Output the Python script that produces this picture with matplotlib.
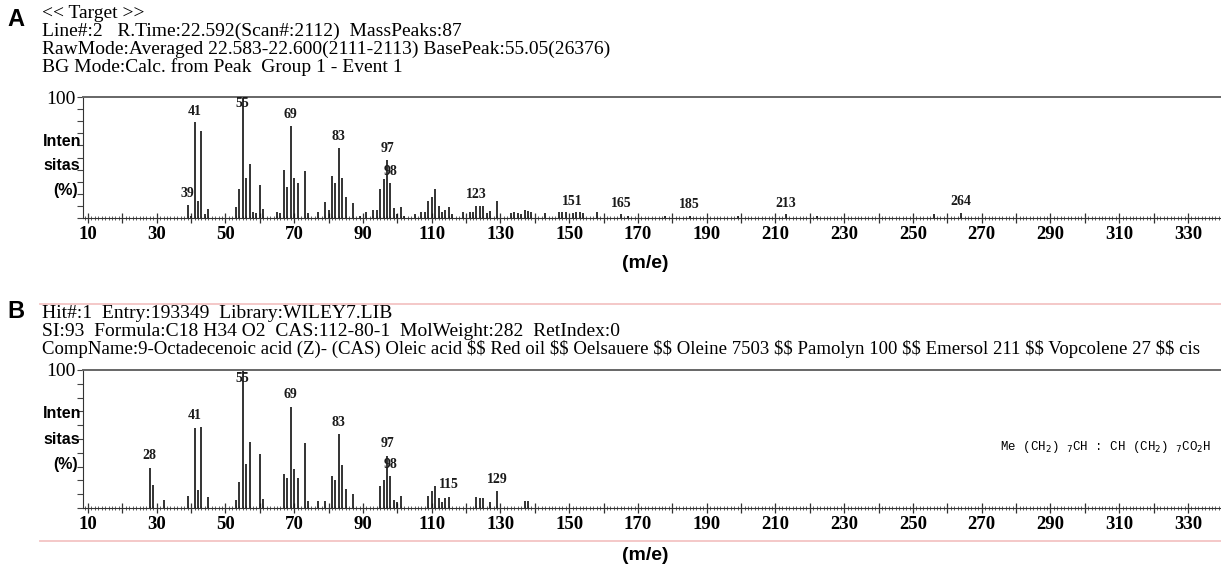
import matplotlib
matplotlib.use("Agg")
import matplotlib.pyplot as plt
from matplotlib.ticker import FixedLocator, FuncFormatter, MultipleLocator

# ---------------- data ----------------
mz_A = [39, 40, 41, 42, 43, 44, 45, 53, 54, 55, 56, 57, 58, 59, 60, 61, 65, 66, 67, 68, 69, 70, 71,
        73, 74, 77, 79, 80, 81, 82, 83, 84, 85, 87, 89, 91, 93, 94, 95, 96, 97, 98, 99, 100, 101, 102,
        105, 107, 108, 109, 110, 111, 112, 113, 114, 115, 116, 119, 121, 122, 123, 124, 125, 126, 127,
        129, 133, 134, 135, 136, 137, 138, 139, 143, 147, 148, 149, 151, 152, 153, 154, 158,
        165, 167, 178, 185, 199, 213, 222, 256, 264]
int_A = [10.7, 2, 79, 14, 72, 3, 7.5, 9, 24, 100, 33, 45, 5, 4, 27, 7.5, 5, 4, 40, 26, 76, 33, 29,
         39, 4, 5, 13, 7, 35, 29, 57.6, 33, 17.6, 12, 2, 5, 7, 7, 24, 32, 48, 29, 8, 3, 9, 2,
         3, 5, 5, 14, 17, 24, 10, 5, 7, 9, 3, 5, 5, 5, 10, 10, 10, 4, 6,
         14, 4, 5, 4, 3, 7, 6, 5, 4, 5, 5, 5, 4, 5, 5, 4, 5,
         3, 2, 1.5, 2, 1.5, 3, 2, 3, 4]
labels_A = [39, 41, 55, 69, 83, 97, 98, 123, 151, 165, 185, 213, 264]

mz_B = [28, 29, 32, 39, 41, 42, 43, 45, 53, 54, 55, 56, 57, 60, 61, 67, 68, 69, 70, 71, 73, 74, 77,
        79, 81, 82, 83, 84, 85, 87, 95, 96, 97, 98, 99, 100, 101, 109, 110, 111, 112, 113, 114, 115,
        123, 124, 125, 127, 129, 137, 138]
int_B = [29, 17, 6, 9, 58, 13, 59, 8, 6, 19, 100, 32, 48, 39, 6.5, 25, 22, 73.5, 28, 22, 47, 5, 5,
         5, 23, 20, 53.5, 31, 14, 10, 16, 20, 38, 23, 6, 4, 9, 9, 12.5, 16, 7, 4, 7, 8,
         8, 7, 7, 4, 12, 5, 5]
labels_B = [28, 41, 55, 69, 83, 97, 98, 115, 129]

xticks_major = list(range(10, 331, 10))
xtick_labels = list(range(10, 331, 20))

header_A = ["<< Target >>",
            "Line#:2   R.Time:22.592(Scan#:2112)  MassPeaks:87",
            "RawMode:Averaged 22.583-22.600(2111-2113) BasePeak:55.05(26376)",
            "BG Mode:Calc. from Peak  Group 1 - Event 1"]
header_B = ["Hit#:1  Entry:193349  Library:WILEY7.LIB",
            "SI:93  Formula:C18 H34 O2  CAS:112-80-1  MolWeight:282  RetIndex:0",
            "CompName:9-Octadecenoic acid (Z)- (CAS) Oleic acid $$ Red oil $$ Oelsauere $$ Oleine 7503 $$ "
            "Pamolyn 100 $$ Emersol 211 $$ Vopcolene 27 $$ cis"]

W, H = 1221, 568
fig = plt.figure(figsize=(W / 100, H / 100), dpi=100)
fig.patch.set_facecolor("white")

SERIF = "Liberation Serif"
SANS = "Liberation Sans"


def px(x, y):
    return x / W, 1 - y / H


def make_panel(top, bottom, mz, inten, labels, letter, header, header_y, header_fs, letter_y,
               ylab_y, mle_y):
    left = 83
    ax = fig.add_axes([left / W, 1 - bottom / H, 1 - left / W, (bottom - top) / H])
    ax.set_xlim(8.55, 339.6)
    ax.set_ylim(0, 100)
    ax.vlines(mz, 0, inten, color="#111111", lw=1.2)
    lookup = dict(zip(mz, inten))
    for m in labels:
        h = lookup[m]
        y = min(h + 4.0, 89)
        ax.text(m, y, str(m), ha="center", va="bottom", fontsize=10,
                family=SERIF, fontweight="bold", color="#1a1a1a")
    ax.spines["right"].set_visible(False)
    ax.spines["top"].set_color("#666")
    ax.spines["top"].set_linewidth(1.4)
    ax.spines["left"].set_color("#333")
    ax.spines["bottom"].set_color("#333")
    ax.xaxis.set_major_locator(FixedLocator(xticks_major))
    ax.xaxis.set_major_formatter(FuncFormatter(
        lambda v, p: str(int(round(v))) if int(round(v)) in xtick_labels else ""))
    ax.xaxis.set_minor_locator(MultipleLocator(1))
    ax.tick_params(axis="x", which="major", direction="inout", length=7, width=0.9, color="#333",
                   pad=2, labelsize=13.5)
    ax.tick_params(axis="x", which="minor", direction="inout", length=3.5, width=0.6, color="#444")
    for lab in ax.get_xticklabels():
        lab.set_family(SERIF)
        lab.set_fontweight("bold")
    ax.yaxis.set_major_locator(FixedLocator(list(range(0, 101, 10))))
    ax.yaxis.set_major_formatter(FuncFormatter(lambda v, p: "100" if round(v) == 100 else ""))
    ax.tick_params(axis="y", which="major", direction="out", length=4, width=0.8, color="#444",
                   labelsize=14, pad=1)
    for lab in ax.get_yticklabels():
        lab.set_family(SERIF)
    fig.text(*px(16, letter_y), letter, fontsize=17, fontweight="bold", family=SANS,
             ha="center", va="center")
    for t, yy, fs in zip(header, header_y, header_fs):
        fig.text(*px(42, yy), t, fontsize=fs, family=SERIF, ha="left", va="center", parse_math=False)
    for t, yy, xx in zip(["Inten", "sitas", "(%)"], ylab_y, [62, 62, 66]):
        fig.text(*px(xx, yy), t, fontsize=11.5, fontweight="bold", family=SANS, ha="center", va="center")
    fig.text(*px(645, mle_y), "(m/e)", fontsize=14, fontweight="bold", family=SANS,
             ha="center", va="center")
    return ax


axA = make_panel(97, 218, mz_A, int_A, labels_A, "A", header_A, [13, 31, 49, 67], [14, 14, 14, 14],
                 20, [142, 166, 190], 263)
axB = make_panel(370, 508, mz_B, int_B, labels_B, "B", header_B, [313, 331, 349], [14, 14, 13.5],
                 312, [414, 440, 464], 556)

# pink separator lines
for yy in [304, 541]:
    fig.add_artist(plt.Line2D([40 / W, 1], [1 - yy / H, 1 - yy / H], color="#f3c4c4", lw=1.3))

# structural formula
fig.text(*px(1000, 447), r"Me (CH$_2$) $_7$CH : CH (CH$_2$) $_7$CO$_2$H", fontsize=9,
         family="Liberation Mono", ha="left", va="center")

fig.savefig("out.png", dpi=100, facecolor="white")
